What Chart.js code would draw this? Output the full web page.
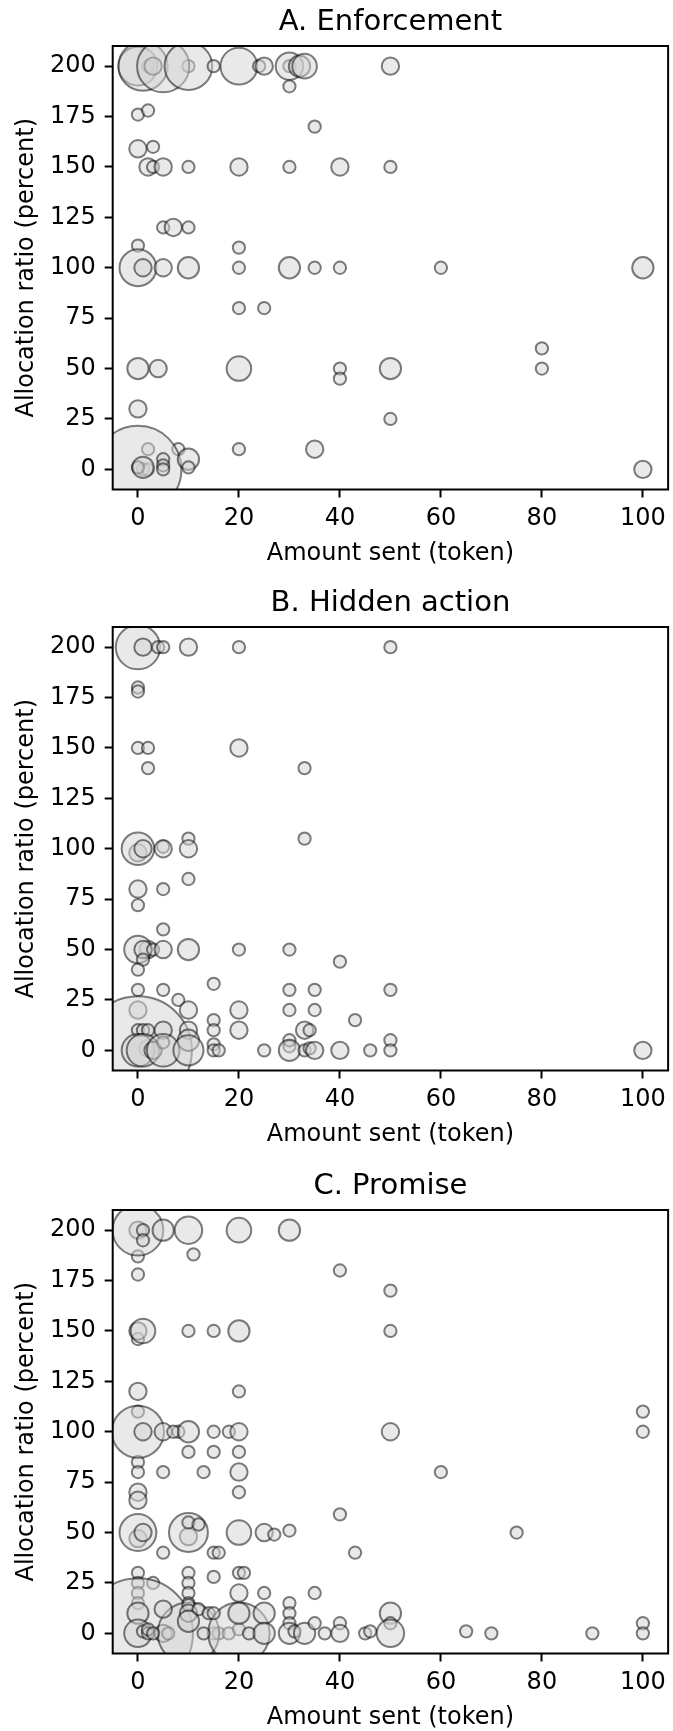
<!DOCTYPE html>
<html>
<head>
<meta charset="utf-8">
<script src="https://cdn.jsdelivr.net/npm/chart.js@4.4.1/dist/chart.umd.min.js"></script>
<style>
  html, body { margin: 0; padding: 0; background: #fff; overflow: hidden; }
  #page { position: relative; width: 673px; height: 1731px; }
  canvas { position: absolute; left: 0; }
</style>
</head>
<body>
<div id="page">
  <canvas id="panelA" width="673" height="575" style="top:0px"></canvas>
  <canvas id="panelB" width="673" height="575" style="top:581px"></canvas>
  <canvas id="panelC" width="673" height="575" style="top:1164px"></canvas>
</div>
<script>
// ---- data: amount sent (token), allocation ratio (percent), number of observations ----
const xTicks = [0, 20, 40, 60, 80, 100];
const yTicks = [0, 25, 50, 75, 100, 125, 150, 175, 200];

const enforcementSent = [
  2, 10, 30, 1, 2,
  0, 1, 3, 5, 10, 15, 20, 24, 25, 30, 32, 33, 50, 30,
  0, 2, 35,
  0, 3, 2, 3, 5, 10, 20, 30, 40, 50,
  5, 7, 10, 0, 20,
  0, 1, 5, 10, 20, 30, 35, 40, 60, 100,
  20, 25, 80, 80, 0, 4, 20, 40, 40, 50,
  0, 50, 2, 8, 20, 35,
  0, 0, 1, 5, 5, 5, 10, 10, 100
];
const enforcementRatio = [
  200, 200, 200, 0, 0,
  200, 200, 200, 200, 200, 200, 200, 200, 200, 200, 200, 200, 200, 190,
  176, 178, 170,
  159, 160, 150, 150, 150, 150, 150, 150, 150, 150,
  120, 120, 120, 111, 110,
  100, 100, 100, 100, 100, 100, 100, 100, 100, 100,
  80, 80, 60, 50, 50, 50, 50, 50, 45, 50,
  30, 25, 10, 10, 10, 10,
  0, 1, 1, 5, 2, 0, 5, 1, 0
];
const enforcementCount = [
  1, 1, 1, 1, 1,
  10, 16, 2, 18, 15, 1, 9, 1, 2, 5, 3, 4, 2, 1,
  1, 1, 1,
  2, 1, 2, 1, 2, 1, 2, 1, 2, 1,
  1, 2, 1, 1, 1,
  9, 2, 2, 3, 1, 3, 1, 1, 1, 3,
  1, 1, 1, 1, 3, 2, 4, 1, 1, 3,
  2, 1, 1, 1, 1, 2,
  50, 1, 3, 1, 1, 1, 3, 1, 2
];

const hiddenSent = [
  0, 2, 2, 3,
  0, 1, 4, 5, 10, 20, 50,
  0, 0, 0, 2, 20, 2, 33,
  10, 33, 0, 1, 5, 5, 10,
  10, 0, 5, 0, 5,
  0, 1, 3, 5, 10, 20, 30, 1, 40, 0,
  15, 0, 5, 30, 35, 50, 8, 0, 10, 20, 30, 35, 15, 43,
  0,
  0, 1, 2, 5, 10, 15, 20, 33, 34,
  0, 1, 3, 5, 5, 10, 10, 15, 15, 16, 25, 30, 30, 30, 33, 34, 35, 40, 46, 50, 50, 100
];
const hiddenRatio = [
  98, 50, 1, 2,
  200, 200, 200, 200, 200, 200, 200,
  180, 178, 150, 150, 150, 140, 140,
  105, 105, 100, 100, 101, 100, 100,
  85, 80, 80, 72, 60,
  50, 50, 50, 50, 50, 50, 50, 45, 44, 40,
  33, 30, 30, 30, 30, 30, 25, 20, 20, 20, 20, 20, 15, 15,
  0,
  10, 10, 10, 10, 10, 10, 10, 10, 10,
  0, 0, 0, 4, 0, 5, 0, 3, 0, 0, 0, 2, 5, 0, 0, 1, 0, 0, 0, 5, 0, 0
];
const hiddenCount = [
  2, 2, 2, 1,
  13, 2, 1, 1, 2, 1, 1,
  1, 1, 1, 1, 2, 1, 1,
  1, 1, 7, 2, 1, 2, 2,
  1, 2, 1, 1, 1,
  5, 2, 1, 2, 3, 1, 1, 1, 1, 1,
  1, 1, 1, 1, 1, 1, 1, 2, 2, 2, 1, 1, 1, 1,
  77,
  1, 1, 1, 2, 2, 1, 2, 2, 1,
  7, 7, 2, 1, 7, 3, 6, 1, 1, 1, 1, 1, 1, 3, 1, 1, 2, 2, 1, 1, 1, 2
];

const promiseSent = [
  0, 0, 0, 0, 0, 10, 8,
  0, 1, 1, 5, 10, 20, 30,
  11, 0, 40, 50,
  0, 1, 10, 15, 20, 50,
  0, 20, 0, 100,
  0, 1, 5, 7, 10, 15, 18, 20, 50, 100,
  10, 15, 20, 0, 5, 13, 20, 60, 0, 0, 20, 40,
  0, 1, 10, 10, 12, 20, 25, 27, 30, 75,
  5, 15, 16, 43, 0, 10, 20, 21, 15, 0, 3, 10, 0, 10, 20, 25, 35, 0, 10, 30,
  0,
  5, 6, 15, 16, 18, 20,
  10, 20,
  0, 5, 10, 10, 12, 14, 15, 20, 25, 30, 50,
  0, 1, 2, 2, 3, 10, 13, 22, 25, 30, 30, 31, 33, 35, 37, 40, 40, 45, 46, 50, 50, 65, 70, 90, 100, 100
];
const promiseRatio = [
  200, 187, 146, 85, 47, 48, 100,
  200, 200, 195, 200, 200, 200, 200,
  188, 178, 180, 170,
  150, 150, 150, 150, 150, 150,
  120, 120, 110, 110,
  100, 100, 100, 100, 100, 100, 100, 100, 100, 100,
  90, 90, 90, 80, 80, 80, 80, 80, 70, 66, 70, 59,
  50, 50, 50, 55, 54, 50, 50, 49, 51, 50,
  40, 40, 40, 40, 30, 30, 30, 30, 28, 25, 25, 25, 20, 20, 20, 20, 20, 15, 15, 15,
  0,
  0, 0, 0, 0, 0, 2,
  0, 0,
  10, 12, 14, 10, 12, 10, 10, 10, 10, 10, 10,
  0, 1, 0, 2, 0, 6, 0, 0, 0, 5, 0, 1, 0, 5, 0, 5, 0, 0, 1, 5, 0, 1, 0, 0, 5, 0
];
const promiseCount = [
  2, 1, 1, 1, 2, 2, 1,
  17, 1, 1, 3, 5, 4, 3,
  1, 1, 1, 1,
  2, 4, 1, 1, 3, 1,
  2, 1, 1, 1,
  18, 2, 2, 1, 3, 1, 1, 2, 2, 1,
  1, 1, 1, 1, 1, 1, 2, 1, 2, 2, 1, 1,
  9, 2, 10, 1, 1, 4, 2, 1, 1, 1,
  1, 1, 1, 1, 1, 1, 1, 1, 1, 1, 1, 1, 1, 1, 2, 1, 1, 1, 1, 1,
  80,
  2, 1, 1, 1, 1, 1,
  25, 25,
  3, 2, 1, 2, 1, 1, 1, 3, 3, 1, 3,
  5, 1, 1, 1, 1, 3, 1, 1, 3, 1, 3, 1, 3, 1, 1, 1, 2, 1, 1, 1, 5, 1, 1, 1, 1, 1
];

// ---- styling ----
const FONT = "'DejaVu Sans', sans-serif";
const TICK_SIZE = 24;
const LABEL_SIZE = 24;
const TITLE_SIZE = 29;
const RADIUS_PER_SQRT_COUNT = 6.15;   // bubble area grows with the count

Chart.defaults.font.family = FONT;
Chart.defaults.color = '#000';

// axes box drawn on all four sides
const frame = {
  id: 'frame',
  afterDatasetsDraw(chart) {
    const { ctx, chartArea: a } = chart;
    ctx.save();
    ctx.strokeStyle = '#000';
    ctx.lineWidth = 2;
    ctx.strokeRect(a.left, a.top, a.right - a.left, a.bottom - a.top);
    ctx.restore();
  }
};

function drawPanel(id, title, sent, ratio, count) {
  const points = sent.map((x, i) => ({ x: x, y: ratio[i], r: RADIUS_PER_SQRT_COUNT * Math.sqrt(count[i]) }));
  new Chart(document.getElementById(id), {
    type: 'bubble',
    data: {
      datasets: [{
        data: points,
        backgroundColor: 'rgba(211,211,211,0.5)',
        borderColor: 'rgba(0,0,0,0.5)',
        borderWidth: 2,
        hoverBorderWidth: 2,
        hoverRadius: 0,
        clip: 0
      }]
    },
    options: {
      responsive: false,
      animation: false,
      devicePixelRatio: 1,
      events: [],
      layout: { autoPadding: false, padding: { left: 0, right: 2.5, top: 0, bottom: 0 } },
      plugins: {
        legend: { display: false },
        tooltip: { enabled: false },
        title: {
          display: true,
          text: title,
          fullSize: false,
          color: '#000',
          font: { family: FONT, size: TITLE_SIZE, weight: 'normal' },
          padding: { top: 5, bottom: 46 - 5 - TITLE_SIZE * 1.2 }
        }
      },
      scales: {
        x: {
          type: 'linear',
          min: -5,
          max: 105,
          afterBuildTicks: s => { s.ticks = xTicks.map(v => ({ value: v })); },
          afterFit: s => { s.height = 85.5; },
          grid: { drawOnChartArea: false, drawTicks: true, tickLength: 8, tickWidth: 2, tickColor: '#000' },
          border: { display: false },
          ticks: { color: '#000', font: { family: FONT, size: TICK_SIZE }, padding: 7, maxRotation: 0, autoSkip: false },
          title: {
            display: true,
            text: 'Amount sent (token)',
            color: '#000',
            font: { family: FONT, size: LABEL_SIZE },
            padding: { top: 0, bottom: 6.5 }
          }
        },
        y: {
          type: 'linear',
          min: -10,
          max: 210,
          afterBuildTicks: s => { s.ticks = yTicks.map(v => ({ value: v })); },
          afterFit: s => { s.width = 112.7; },
          grid: { drawOnChartArea: false, drawTicks: true, tickLength: 8, tickWidth: 2, tickColor: '#000' },
          border: { display: false },
          ticks: { color: '#000', font: { family: FONT, size: TICK_SIZE }, padding: 9, autoSkip: false },
          title: {
            display: true,
            text: 'Allocation ratio (percent)',
            color: '#000',
            font: { family: FONT, size: LABEL_SIZE },
            padding: { top: 12, bottom: 0 }
          }
        }
      }
    },
    plugins: [frame]
  });
}

drawPanel('panelA', 'A. Enforcement', enforcementSent, enforcementRatio, enforcementCount);
drawPanel('panelB', 'B. Hidden action', hiddenSent, hiddenRatio, hiddenCount);
drawPanel('panelC', 'C. Promise', promiseSent, promiseRatio, promiseCount);
</script>
</body>
</html>
